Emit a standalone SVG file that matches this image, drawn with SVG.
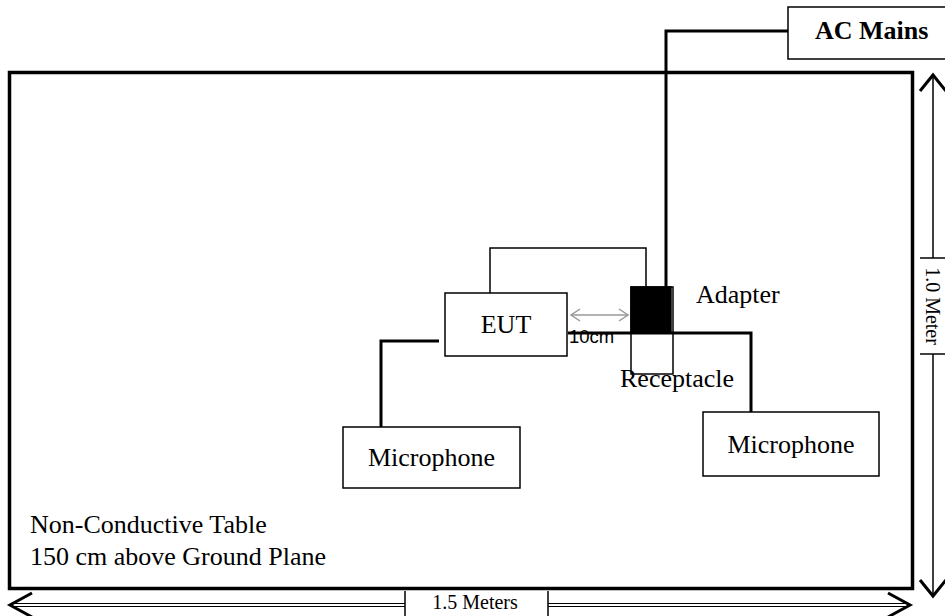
<svg xmlns="http://www.w3.org/2000/svg" width="945" height="616" viewBox="0 0 945 616">
<style>
.lbl{font-family:"Liberation Serif","Times New Roman",serif;font-size:26px;fill:#000}
.box{fill:#fff;stroke:#000;stroke-width:1.5}
.thick{fill:none;stroke:#000;stroke-width:3}
.thin{fill:none;stroke:#000;stroke-width:1.5}
.dim{fill:none;stroke:#000;stroke-width:1.2}
.head{fill:none;stroke:#000;stroke-width:3;stroke-linejoin:miter}
</style>
<rect width="945" height="616" fill="#fff"/>
<g id="table">
<rect x="9.5" y="72.5" width="903" height="516" fill="none" stroke="#000" stroke-width="3.5"/>
<text class="lbl" x="30" y="533">Non-Conductive Table</text>
<text class="lbl" x="30" y="565">150 cm above Ground Plane</text>
</g>
<g id="receptacle">
<rect class="box" x="631" y="287" width="42" height="87"/>
<text class="lbl" x="620" y="387">Receptacle</text>
</g>
<g id="adapter">
<rect x="631" y="287" width="40" height="45" fill="#000" stroke="#000" stroke-width="1.5"/>
<text class="lbl" x="696" y="303">Adapter</text>
</g>
<g id="ac-mains">
<rect class="box" x="788" y="7" width="170" height="52"/>
<text class="lbl" x="815" y="39" font-weight="bold">AC Mains</text>
</g>
<g id="eut">
<rect class="box" x="445" y="293" width="122" height="63"/>
<text class="lbl" x="506" y="333" text-anchor="middle">EUT</text>
</g>
<g id="mic-left">
<rect class="box" x="343" y="427" width="177" height="61"/>
<text class="lbl" x="431.5" y="466" text-anchor="middle">Microphone</text>
</g>
<g id="mic-right">
<rect class="box" x="703" y="412" width="176" height="64"/>
<text class="lbl" x="791" y="453" text-anchor="middle">Microphone</text>
</g>
<g id="spacing">
<text x="569" y="343" font-family="'Liberation Sans',Arial,sans-serif" font-size="18.5px">10cm</text>
<g fill="none" stroke="#999" stroke-width="1.5">
<line x1="571" y1="315" x2="628" y2="315"/>
<polyline points="580,309 571,315 580,321"/>
<polyline points="619,309 628,315 619,321"/>
</g>
</g>
<g id="connectors">
<path class="thick" d="M788,31 H666 V287"/>
<path class="thin" d="M490,293 V248 H646 V287"/>
<path class="thick" d="M439,341 H381 V427"/>
<path class="thick" d="M568,333 H751 V412"/>
</g>
<g id="dim-width">
<line class="dim" x1="12" y1="603.5" x2="405" y2="603.5"/>
<line class="dim" x1="12" y1="606.5" x2="405" y2="606.5"/>
<line class="dim" x1="548" y1="603.5" x2="909" y2="603.5"/>
<line class="dim" x1="548" y1="606.5" x2="909" y2="606.5"/>
<line class="thin" x1="405" y1="591" x2="405" y2="616"/>
<line class="thin" x1="548" y1="591" x2="548" y2="616"/>
<polyline class="head" points="32,593 10,605 32,617"/>
<polyline class="head" points="888,593 910,605 888,617"/>
<text x="475" y="609" text-anchor="middle" font-family="'Liberation Serif','Times New Roman',serif" font-size="20px">1.5 Meters</text>
</g>
<g id="dim-height">
<line class="thin" x1="933" y1="76" x2="933" y2="258"/>
<line class="thin" x1="933" y1="354" x2="933" y2="595"/>
<line class="thin" x1="920" y1="258" x2="945" y2="258"/>
<line class="thin" x1="920" y1="354" x2="945" y2="354"/>
<polyline class="head" points="920,91 933,75 946,91"/>
<polyline class="head" points="920,580 933,596 946,580"/>
<text transform="translate(926,306) rotate(90)" text-anchor="middle" font-family="'Liberation Serif','Times New Roman',serif" font-size="20px">1.0 Meter</text>
</g>
</svg>
